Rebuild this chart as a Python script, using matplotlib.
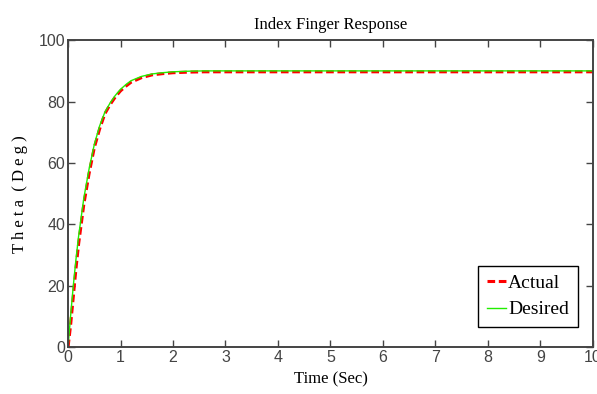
import matplotlib
matplotlib.use("Agg")
import matplotlib.pyplot as plt

# values
time_desired = [0.0, 0.05, 0.1, 0.15, 0.2, 0.3, 0.4, 0.5, 0.6, 0.7, 0.8, 0.9, 1.0,
                1.1, 1.2, 1.4, 1.6, 1.8, 2.0, 2.3, 2.6, 3.0, 4.0, 6.0, 8.0, 10.0]
theta_desired = [0.0, 10.5, 20.0, 28.5, 36.0, 48.5, 58.0, 66.0, 72.0, 76.5, 79.5, 82.0, 84.0,
                 85.5, 86.8, 88.2, 89.0, 89.4, 89.7, 89.9, 90.0, 90.0, 90.0, 90.0, 90.0, 90.0]
time_actual = [0.0, 0.05, 0.1, 0.15, 0.2, 0.3, 0.4, 0.5, 0.6, 0.7, 0.8, 0.9, 1.0,
               1.1, 1.2, 1.4, 1.6, 1.8, 2.0, 2.3, 2.6, 3.0, 4.0, 6.0, 8.0, 10.0]
theta_actual = [0.0, 7.5, 16.5, 25.5, 33.5, 46.5, 56.5, 65.0, 71.0, 76.0, 79.0, 81.5, 83.5,
                85.0, 86.3, 87.8, 88.7, 89.1, 89.4, 89.6, 89.7, 89.7, 89.7, 89.7, 89.7, 89.7]
x_ticks = list(range(0, 11))
y_ticks = [0, 20, 40, 60, 80, 100]

SERIF = ["Liberation Serif", "DejaVu Serif"]
SANS = ["Liberation Sans Narrow", "Liberation Sans", "DejaVu Sans"]
TICK_GRAY = "#444444"

fig = plt.figure(figsize=(5.97, 3.94), dpi=100)
ax = fig.add_axes([0.114, 0.119, 0.879, 0.779])

ax.plot(time_actual, theta_actual, color="#ff0000", linestyle="--", linewidth=2.2,
        dashes=(2.5, 1.2), label="Actual")
ax.plot(time_desired, theta_desired, color="#22ee00", linestyle="-", linewidth=1.0,
        label="Desired")

ax.set_xlim(0, 10)
ax.set_ylim(0, 100)
ax.set_xticks(x_ticks)
ax.set_yticks(y_ticks)
ax.tick_params(direction="in", top=True, right=True, length=5, width=1.0,
               color=TICK_GRAY, labelcolor=TICK_GRAY, labelsize=11.5, pad=2)
for lab in ax.get_xticklabels() + ax.get_yticklabels():
    lab.set_family(SANS)
for spine in ax.spines.values():
    spine.set_color(TICK_GRAY)
    spine.set_linewidth(1.4)

ax.set_title("Index Finger Response", family=SERIF, fontsize=12, pad=8)
ax.set_xlabel("Time (Sec)", family=SERIF, fontsize=12, labelpad=5)
ax.set_ylabel("T h e t a  ( D e g )", family=SERIF, fontsize=12, labelpad=8)

leg = ax.legend(loc="lower right", prop={"family": SERIF, "size": 14},
                handlelength=1.0, handletextpad=0.1, borderpad=0.45,
                labelspacing=0.45, fancybox=False, framealpha=1,
                borderaxespad=0, bbox_to_anchor=(0.971, 0.065))
leg.get_frame().set_edgecolor("black")
leg.get_frame().set_linewidth(1.0)

fig.savefig("out.png", dpi=100)
